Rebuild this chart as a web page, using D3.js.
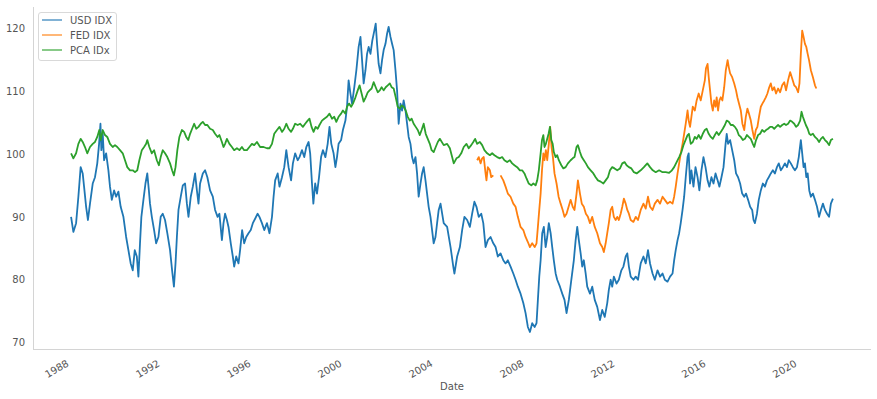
<!DOCTYPE html>
<html><head><meta charset="utf-8">
<script src="https://cdn.jsdelivr.net/npm/d3@7"></script>
<style>body{margin:0;background:#fff}svg{display:block;font-family:"DejaVu Sans",sans-serif}</style>
</head><body><svg id="chart" width="877" height="399"></svg>
<script>
const seriesNames = ["USD IDX", "FED IDX", "PCA IDx"];
const seriesColors = ["#1f77b4", "#ff7f0e", "#2ca02c"];
const xTickYears = [1988, 1992, 1996, 2000, 2004, 2008, 2012, 2016, 2020];
const yTickValues = [70, 80, 90, 100, 110, 120];
const yLimits = [69.0, 123.35];
const xLabel = "Date";

// [decimal year, value]
const usdIdx = [[1988.18,90.0],[1988.28,87.6],[1988.40,89.0],[1988.50,93.2],[1988.60,97.9],[1988.69,96.9],[1988.75,94.8],[1988.84,91.6],[1988.92,89.5],[1989.01,92.1],[1989.13,95.3],[1989.23,96.3],[1989.33,98.5],[1989.41,101.6],[1989.47,104.8],[1989.51,100.6],[1989.57,103.2],[1989.63,99.0],[1989.72,100.1],[1989.82,97.4],[1989.89,94.8],[1989.97,92.7],[1990.07,94.2],[1990.16,93.2],[1990.26,94.0],[1990.36,91.6],[1990.48,90.0],[1990.60,86.8],[1990.70,84.7],[1990.80,82.6],[1990.89,81.5],[1990.98,84.7],[1991.07,83.7],[1991.14,80.5],[1991.21,85.8],[1991.27,90.0],[1991.36,92.7],[1991.45,95.3],[1991.53,96.9],[1991.60,94.2],[1991.65,92.1],[1991.73,90.0],[1991.83,87.9],[1991.92,85.8],[1992.02,86.8],[1992.12,90.0],[1992.21,90.5],[1992.31,89.5],[1992.41,87.4],[1992.53,84.7],[1992.62,81.5],[1992.70,78.9],[1992.77,82.6],[1992.83,86.8],[1992.90,91.1],[1993.00,93.2],[1993.09,95.0],[1993.19,95.3],[1993.27,92.1],[1993.34,90.0],[1993.44,93.2],[1993.53,94.8],[1993.63,96.9],[1993.71,94.2],[1993.78,92.1],[1993.85,95.3],[1993.97,96.9],[1994.07,97.4],[1994.17,96.3],[1994.29,94.2],[1994.41,93.2],[1994.51,91.1],[1994.62,90.0],[1994.70,90.5],[1994.81,86.3],[1994.88,89.0],[1994.95,90.5],[1995.03,89.5],[1995.10,88.4],[1995.20,85.8],[1995.29,83.7],[1995.35,82.1],[1995.44,83.7],[1995.54,82.6],[1995.61,84.7],[1995.70,87.9],[1995.79,85.8],[1995.88,86.8],[1995.98,87.4],[1996.08,87.9],[1996.17,89.0],[1996.27,89.7],[1996.38,90.5],[1996.46,90.0],[1996.57,89.0],[1996.67,87.9],[1996.79,89.0],[1996.90,87.4],[1997.01,90.0],[1997.08,93.2],[1997.15,95.8],[1997.26,96.9],[1997.34,94.8],[1997.45,96.3],[1997.55,97.9],[1997.64,100.6],[1997.74,97.9],[1997.85,95.8],[1997.93,98.5],[1998.03,100.1],[1998.14,99.0],[1998.22,99.5],[1998.33,100.6],[1998.43,99.5],[1998.52,101.1],[1998.62,101.9],[1998.69,100.1],[1998.77,95.3],[1998.83,92.1],[1998.91,95.3],[1998.99,93.7],[1999.08,96.3],[1999.17,99.5],[1999.25,100.6],[1999.36,99.5],[1999.46,101.6],[1999.54,104.3],[1999.62,101.6],[1999.72,100.1],[1999.80,97.9],[1999.87,99.5],[1999.94,101.6],[2000.05,102.2],[2000.13,103.8],[2000.24,105.3],[2000.31,107.5],[2000.38,111.7],[2000.46,109.6],[2000.53,108.0],[2000.63,110.6],[2000.72,113.3],[2000.82,117.0],[2000.90,118.6],[2000.97,114.9],[2001.04,111.2],[2001.12,113.3],[2001.19,115.9],[2001.26,117.0],[2001.34,115.9],[2001.42,118.0],[2001.51,119.6],[2001.57,120.7],[2001.63,117.5],[2001.70,114.3],[2001.78,112.8],[2001.85,114.9],[2001.92,116.5],[2002.00,117.5],[2002.07,119.1],[2002.14,120.2],[2002.22,118.6],[2002.29,117.5],[2002.36,116.5],[2002.44,113.3],[2002.51,110.1],[2002.58,104.8],[2002.66,108.0],[2002.73,106.9],[2002.80,108.5],[2002.88,106.9],[2002.95,104.8],[2003.02,102.7],[2003.10,101.6],[2003.17,99.5],[2003.24,98.5],[2003.32,99.5],[2003.39,96.9],[2003.46,93.2],[2003.54,95.3],[2003.61,96.9],[2003.68,97.9],[2003.76,95.8],[2003.83,93.7],[2003.90,91.6],[2003.98,90.0],[2004.05,87.9],[2004.12,85.8],[2004.20,86.8],[2004.27,89.0],[2004.34,91.1],[2004.42,92.1],[2004.56,89.0],[2004.71,88.4],[2004.86,85.2],[2004.98,82.1],[2005.03,81.0],[2005.15,83.7],[2005.27,85.2],[2005.37,87.9],[2005.47,90.0],[2005.59,89.5],[2005.71,88.4],[2005.81,90.5],[2005.91,92.4],[2006.00,91.6],[2006.10,90.0],[2006.21,90.5],[2006.30,89.0],[2006.40,85.2],[2006.50,86.3],[2006.62,86.8],[2006.74,85.8],[2006.84,85.2],[2006.94,83.7],[2007.06,84.2],[2007.18,83.1],[2007.28,82.6],[2007.38,83.1],[2007.50,82.1],[2007.62,81.0],[2007.72,80.0],[2007.82,78.9],[2007.94,77.8],[2008.06,76.3],[2008.16,74.7],[2008.26,72.5],[2008.35,71.7],[2008.45,73.1],[2008.56,72.5],[2008.64,73.1],[2008.70,76.8],[2008.76,80.5],[2008.82,83.1],[2008.89,87.4],[2008.96,88.4],[2009.04,85.2],[2009.11,86.8],[2009.18,89.0],[2009.26,87.4],[2009.33,85.2],[2009.40,83.1],[2009.48,81.0],[2009.55,80.0],[2009.67,78.9],[2009.77,77.8],[2009.87,76.8],[2009.96,74.7],[2010.06,76.8],[2010.17,80.0],[2010.28,83.1],[2010.36,86.3],[2010.43,88.4],[2010.50,86.3],[2010.58,84.2],[2010.65,82.1],[2010.72,83.1],[2010.80,81.0],[2010.87,78.9],[2010.99,77.8],[2011.09,78.9],[2011.20,76.8],[2011.31,75.7],[2011.43,73.6],[2011.53,75.2],[2011.64,74.1],[2011.75,76.3],[2011.82,78.4],[2011.90,80.0],[2011.97,78.9],[2012.04,80.5],[2012.16,79.4],[2012.26,80.0],[2012.37,81.5],[2012.46,82.1],[2012.56,83.7],[2012.63,84.2],[2012.70,82.1],[2012.78,80.5],[2012.90,80.0],[2013.00,80.5],[2013.10,80.0],[2013.22,82.6],[2013.34,83.7],[2013.44,82.6],[2013.54,84.7],[2013.63,82.6],[2013.74,81.0],[2013.84,80.0],[2013.96,81.5],[2014.07,80.5],[2014.18,81.0],[2014.28,80.0],[2014.40,79.7],[2014.51,80.5],[2014.62,81.0],[2014.69,83.1],[2014.76,84.7],[2014.84,86.3],[2014.91,87.4],[2014.98,89.0],[2015.06,91.1],[2015.13,93.2],[2015.20,96.3],[2015.28,99.5],[2015.33,100.1],[2015.39,95.3],[2015.45,97.4],[2015.54,94.8],[2015.63,97.9],[2015.72,96.3],[2015.80,94.2],[2015.89,97.4],[2015.98,99.5],[2016.07,97.9],[2016.16,95.8],[2016.24,94.8],[2016.33,96.3],[2016.42,95.3],[2016.51,96.9],[2016.60,95.8],[2016.68,94.8],[2016.77,96.3],[2016.86,97.9],[2016.95,101.6],[2017.00,103.2],[2017.06,101.6],[2017.15,102.2],[2017.24,100.6],[2017.33,99.0],[2017.41,96.9],[2017.50,96.3],[2017.59,95.3],[2017.68,93.7],[2017.77,93.2],[2017.85,93.7],[2017.94,92.7],[2018.03,91.6],[2018.12,91.1],[2018.18,89.5],[2018.24,89.0],[2018.33,90.5],[2018.41,92.7],[2018.50,94.2],[2018.59,95.3],[2018.68,94.8],[2018.77,95.8],[2018.85,96.3],[2018.94,96.9],[2019.03,97.4],[2019.12,96.9],[2019.21,97.9],[2019.29,98.5],[2019.38,97.4],[2019.47,97.9],[2019.56,98.5],[2019.65,97.9],[2019.73,99.0],[2019.82,98.5],[2019.91,97.9],[2020.00,97.4],[2020.09,97.9],[2020.17,99.5],[2020.26,102.2],[2020.32,100.1],[2020.38,97.9],[2020.44,98.5],[2020.50,96.3],[2020.56,96.9],[2020.63,94.2],[2020.70,93.2],[2020.79,93.7],[2020.88,92.7],[2020.97,91.6],[2021.06,90.0],[2021.14,91.1],[2021.23,92.1],[2021.32,91.1],[2021.41,90.5],[2021.50,90.0],[2021.58,92.1],[2021.67,92.9]];

const fedIdx = [[2006.03,99.0],[2006.10,99.5],[2006.18,98.5],[2006.25,99.3],[2006.32,99.5],[2006.40,96.9],[2006.44,95.8],[2006.50,97.9],[2006.59,97.4],[2006.65,96.3],[2006.74,96.6],[2006.85,null],[2007.06,96.6],[2007.18,95.8],[2007.28,94.8],[2007.38,93.7],[2007.50,93.2],[2007.62,92.1],[2007.72,91.6],[2007.82,90.0],[2007.94,88.4],[2008.06,87.9],[2008.16,86.8],[2008.26,86.0],[2008.35,85.2],[2008.45,85.8],[2008.56,85.2],[2008.64,85.8],[2008.70,88.4],[2008.76,91.1],[2008.82,93.7],[2008.88,97.4],[2008.94,100.1],[2008.99,99.0],[2009.05,100.6],[2009.11,99.0],[2009.18,101.6],[2009.24,104.3],[2009.30,101.1],[2009.36,99.5],[2009.43,96.9],[2009.52,95.3],[2009.61,93.2],[2009.70,92.1],[2009.79,91.1],[2009.87,90.0],[2009.96,90.5],[2010.05,91.6],[2010.14,92.7],[2010.23,91.6],[2010.31,91.1],[2010.40,93.7],[2010.46,95.8],[2010.55,93.7],[2010.63,92.1],[2010.72,91.6],[2010.81,90.5],[2010.90,90.0],[2010.99,89.0],[2011.09,90.0],[2011.20,88.4],[2011.31,87.4],[2011.43,85.8],[2011.53,85.2],[2011.60,84.4],[2011.68,85.8],[2011.75,87.4],[2011.82,89.0],[2011.90,91.1],[2011.97,91.6],[2012.04,90.0],[2012.12,89.5],[2012.19,90.0],[2012.26,89.5],[2012.34,90.5],[2012.41,91.6],[2012.48,92.9],[2012.56,92.1],[2012.63,91.1],[2012.70,90.5],[2012.78,89.5],[2012.90,89.2],[2013.00,90.0],[2013.10,89.5],[2013.22,91.1],[2013.34,92.1],[2013.44,91.3],[2013.54,93.2],[2013.63,91.6],[2013.74,91.1],[2013.84,92.1],[2013.96,92.7],[2014.07,92.1],[2014.18,93.2],[2014.28,92.7],[2014.40,92.1],[2014.51,92.4],[2014.62,92.1],[2014.69,93.2],[2014.76,94.8],[2014.84,96.9],[2014.91,98.5],[2014.98,100.1],[2015.06,101.6],[2015.13,103.2],[2015.20,104.8],[2015.28,106.9],[2015.33,105.3],[2015.39,104.3],[2015.45,105.9],[2015.51,107.5],[2015.60,106.9],[2015.68,108.5],[2015.77,109.6],[2015.86,108.5],[2015.95,110.1],[2016.04,111.7],[2016.09,113.6],[2016.16,114.3],[2016.21,112.2],[2016.27,110.1],[2016.33,108.0],[2016.39,106.9],[2016.45,108.5],[2016.51,107.5],[2016.56,109.0],[2016.62,106.9],[2016.68,108.5],[2016.74,109.0],[2016.81,108.5],[2016.89,110.6],[2016.96,113.3],[2017.04,114.9],[2017.09,113.8],[2017.15,112.8],[2017.24,112.2],[2017.33,111.2],[2017.41,110.1],[2017.47,109.0],[2017.54,108.0],[2017.62,106.9],[2017.69,104.8],[2017.77,103.8],[2017.84,105.9],[2017.91,107.2],[2017.98,106.4],[2018.06,105.3],[2018.13,103.8],[2018.21,102.4],[2018.28,103.8],[2018.35,104.3],[2018.42,105.9],[2018.50,107.5],[2018.57,108.0],[2018.65,108.5],[2018.72,109.0],[2018.79,109.6],[2018.87,110.6],[2018.94,111.2],[2019.01,110.1],[2019.09,110.6],[2019.17,109.6],[2019.26,110.4],[2019.35,109.8],[2019.44,110.9],[2019.53,111.4],[2019.61,110.1],[2019.70,111.7],[2019.79,113.0],[2019.88,112.0],[2019.97,110.9],[2020.05,110.6],[2020.14,109.8],[2020.20,111.2],[2020.26,115.9],[2020.32,119.6],[2020.38,118.6],[2020.44,117.5],[2020.50,117.0],[2020.56,115.9],[2020.62,114.9],[2020.70,113.3],[2020.79,112.2],[2020.88,110.9],[2020.94,110.4]];

const pcaIdx = [[1988.18,100.1],[1988.28,99.3],[1988.40,100.1],[1988.50,101.6],[1988.60,102.4],[1988.69,101.9],[1988.79,101.1],[1988.89,100.1],[1989.01,101.1],[1989.13,101.6],[1989.23,101.9],[1989.33,102.7],[1989.42,103.8],[1989.48,102.2],[1989.57,103.8],[1989.67,103.0],[1989.77,102.7],[1989.89,101.6],[1990.01,101.1],[1990.11,101.4],[1990.21,101.1],[1990.33,100.6],[1990.45,100.1],[1990.55,99.0],[1990.65,97.9],[1990.77,97.4],[1990.89,97.4],[1990.99,97.1],[1991.09,97.4],[1991.18,99.0],[1991.29,100.6],[1991.39,101.1],[1991.48,101.6],[1991.53,102.2],[1991.62,101.1],[1991.73,100.1],[1991.83,100.6],[1991.95,99.0],[1992.04,98.2],[1992.12,99.5],[1992.21,100.6],[1992.31,100.1],[1992.41,99.5],[1992.53,98.5],[1992.62,97.4],[1992.70,96.6],[1992.77,97.9],[1992.85,100.6],[1992.94,102.7],[1993.05,103.8],[1993.15,103.5],[1993.24,102.7],[1993.33,102.2],[1993.41,103.2],[1993.50,104.0],[1993.59,104.8],[1993.68,104.0],[1993.78,104.3],[1993.88,104.8],[1993.97,105.1],[1994.07,104.6],[1994.17,104.6],[1994.29,104.0],[1994.41,103.8],[1994.51,103.2],[1994.62,102.7],[1994.70,103.0],[1994.81,101.9],[1994.88,101.1],[1994.95,101.6],[1995.03,102.4],[1995.14,101.6],[1995.25,101.1],[1995.35,100.6],[1995.47,100.9],[1995.58,100.6],[1995.69,101.1],[1995.79,100.6],[1995.91,100.6],[1996.02,101.1],[1996.13,101.6],[1996.23,101.4],[1996.35,101.9],[1996.49,101.1],[1996.64,101.1],[1996.79,100.9],[1996.90,100.9],[1997.01,101.6],[1997.11,103.2],[1997.23,103.8],[1997.34,104.3],[1997.45,103.5],[1997.55,104.0],[1997.64,104.8],[1997.74,104.0],[1997.85,103.5],[1997.93,104.0],[1998.03,104.8],[1998.14,104.6],[1998.25,104.8],[1998.37,104.3],[1998.47,104.8],[1998.58,105.3],[1998.66,105.6],[1998.75,104.3],[1998.84,103.5],[1998.93,104.3],[1999.02,104.0],[1999.10,104.6],[1999.21,105.3],[1999.31,105.6],[1999.43,105.9],[1999.54,106.4],[1999.65,105.6],[1999.75,105.9],[1999.84,105.1],[1999.94,105.9],[2000.05,106.4],[2000.13,106.9],[2000.24,106.4],[2000.31,107.5],[2000.40,108.0],[2000.49,107.5],[2000.57,108.0],[2000.68,109.0],[2000.78,110.1],[2000.86,110.9],[2000.95,109.6],[2001.04,108.3],[2001.13,109.0],[2001.22,109.8],[2001.30,110.1],[2001.39,110.4],[2001.48,111.4],[2001.57,110.6],[2001.66,109.8],[2001.75,110.1],[2001.83,110.6],[2001.92,110.1],[2002.01,110.6],[2002.10,110.9],[2002.19,111.2],[2002.27,110.6],[2002.36,110.4],[2002.45,109.0],[2002.54,107.5],[2002.63,107.2],[2002.71,107.7],[2002.80,107.5],[2002.89,106.9],[2002.98,105.9],[2003.07,105.3],[2003.15,105.6],[2003.24,104.8],[2003.33,104.3],[2003.42,103.8],[2003.51,103.0],[2003.59,103.8],[2003.68,104.8],[2003.77,103.2],[2003.86,102.4],[2003.95,101.6],[2004.03,100.6],[2004.12,100.3],[2004.21,101.1],[2004.30,101.9],[2004.39,102.4],[2004.56,101.4],[2004.71,101.6],[2004.83,100.9],[2004.93,99.5],[2005.00,98.5],[2005.12,99.3],[2005.22,99.5],[2005.33,100.1],[2005.44,101.1],[2005.56,101.6],[2005.66,100.9],[2005.77,101.4],[2005.86,101.9],[2005.94,102.4],[2006.03,101.6],[2006.15,101.9],[2006.25,101.4],[2006.35,100.6],[2006.47,100.1],[2006.59,99.8],[2006.69,100.1],[2006.79,99.8],[2006.91,99.5],[2007.03,99.3],[2007.13,99.5],[2007.23,99.0],[2007.35,98.7],[2007.47,99.0],[2007.57,98.5],[2007.67,98.2],[2007.79,97.9],[2007.91,97.4],[2008.01,97.4],[2008.11,96.9],[2008.20,96.1],[2008.30,95.3],[2008.41,95.0],[2008.50,95.3],[2008.60,95.0],[2008.67,95.8],[2008.74,97.4],[2008.82,100.1],[2008.88,102.2],[2008.94,103.0],[2008.99,101.1],[2009.05,101.6],[2009.11,102.4],[2009.17,103.2],[2009.23,104.3],[2009.29,102.2],[2009.35,101.6],[2009.40,100.3],[2009.48,99.5],[2009.55,99.8],[2009.62,99.0],[2009.73,98.2],[2009.82,97.7],[2009.92,97.9],[2010.02,98.5],[2010.14,99.0],[2010.23,99.3],[2010.31,99.5],[2010.40,101.1],[2010.46,101.4],[2010.55,100.3],[2010.63,99.5],[2010.72,99.0],[2010.81,98.5],[2010.90,97.9],[2011.02,97.4],[2011.14,96.9],[2011.24,96.3],[2011.34,95.8],[2011.46,95.6],[2011.58,95.3],[2011.68,95.8],[2011.78,96.3],[2011.87,97.4],[2011.97,97.9],[2012.07,97.7],[2012.19,97.4],[2012.31,97.7],[2012.41,98.5],[2012.51,98.7],[2012.60,98.2],[2012.70,97.9],[2012.81,97.7],[2012.92,97.1],[2013.04,96.9],[2013.22,97.4],[2013.36,97.9],[2013.51,98.5],[2013.63,97.9],[2013.75,97.4],[2013.88,97.1],[2014.03,97.4],[2014.18,97.1],[2014.32,97.1],[2014.47,97.0],[2014.57,97.3],[2014.69,97.9],[2014.80,98.7],[2014.91,99.5],[2015.01,100.3],[2015.10,101.4],[2015.19,102.2],[2015.28,103.0],[2015.34,103.2],[2015.42,101.6],[2015.51,101.9],[2015.60,102.7],[2015.68,102.4],[2015.77,103.0],[2015.86,102.4],[2015.95,103.2],[2016.04,103.8],[2016.12,104.0],[2016.21,103.2],[2016.30,102.7],[2016.39,102.4],[2016.48,103.0],[2016.56,103.5],[2016.65,103.0],[2016.74,103.5],[2016.83,104.0],[2016.92,104.6],[2017.00,105.3],[2017.09,105.1],[2017.18,104.6],[2017.27,104.6],[2017.36,104.3],[2017.45,103.8],[2017.53,103.0],[2017.62,102.7],[2017.71,102.2],[2017.80,102.4],[2017.89,103.0],[2017.97,102.7],[2018.06,102.4],[2018.15,101.6],[2018.21,101.1],[2018.29,102.2],[2018.38,103.0],[2018.47,103.2],[2018.56,103.8],[2018.65,103.5],[2018.73,103.8],[2018.82,104.0],[2018.91,104.3],[2019.00,104.3],[2019.09,104.0],[2019.17,104.3],[2019.26,104.6],[2019.35,104.3],[2019.44,104.6],[2019.53,104.8],[2019.61,104.6],[2019.70,104.8],[2019.79,105.3],[2019.88,105.1],[2019.97,104.8],[2020.05,104.3],[2020.14,104.6],[2020.23,105.3],[2020.29,106.7],[2020.35,105.9],[2020.41,105.3],[2020.48,104.6],[2020.56,104.0],[2020.63,103.2],[2020.70,103.0],[2020.79,103.2],[2020.88,102.7],[2020.97,102.4],[2021.06,101.9],[2021.14,102.4],[2021.23,102.7],[2021.32,102.2],[2021.41,101.9],[2021.50,101.4],[2021.58,102.2],[2021.67,102.4]];

const seriesData = [usdIdx, fedIdx, pcaIdx];

const toDate = yr => {
  const y0 = Math.floor(yr);
  const a = Date.UTC(y0, 0, 1), b = Date.UTC(y0 + 1, 0, 1);
  return new Date(a + (yr - y0) * (b - a));
};

const svg = d3.select("#chart");
const plot = {left: 33, right: 871, top: 7, bottom: 349};
const textColor = "#555";
const spineColor = "#d4d4d4";

const allYears = seriesData.flat().map(d => d[0]);
const [x0, x1] = d3.extent(allYears);
const pad = (x1 - x0) * 0.05;
const x = d3.scaleUtc().domain([toDate(x0 - pad), toDate(x1 + pad)]).range([plot.left, plot.right]);
const y = d3.scaleLinear().domain(yLimits).range([plot.bottom, plot.top]);

// spines
svg.append("line").attr("x1", plot.left + 0.5).attr("x2", plot.left + 0.5)
  .attr("y1", plot.top).attr("y2", plot.bottom + 0.5).attr("stroke", spineColor);
svg.append("line").attr("x1", plot.left).attr("x2", plot.right)
  .attr("y1", plot.bottom + 0.5).attr("y2", plot.bottom + 0.5).attr("stroke", spineColor);

// y axis
const gy = svg.append("g").attr("transform", `translate(${plot.left},0)`)
  .call(d3.axisLeft(y).tickValues(yTickValues).tickSize(0).tickPadding(8));
gy.select(".domain").remove();
gy.selectAll("text").attr("fill", textColor).style("font-size", "10px").style("font-family", "DejaVu Sans");

// x axis
const gx = svg.append("g").attr("transform", `translate(0,${plot.bottom})`)
  .call(d3.axisBottom(x).tickValues(xTickYears.map(toDate)).tickFormat(d3.utcFormat("%Y")).tickSize(0));
gx.select(".domain").remove();
gx.selectAll("text")
  .attr("x", 0).attr("y", 0).attr("dy", 0)
  .attr("transform", "translate(2,16.5) rotate(-30)")
  .style("text-anchor", "end")
  .attr("fill", textColor).style("font-size", "10px").style("font-family", "DejaVu Sans");

svg.append("text").attr("x", (plot.left + plot.right) / 2).attr("y", 389.5)
  .attr("text-anchor", "middle").attr("fill", textColor)
  .style("font-size", "10px").text(xLabel);

// lines
const line = d3.line()
  .defined(d => d[1] != null)
  .x(d => x(toDate(d[0])))
  .y(d => y(d[1]));

seriesData.forEach((data, i) => {
  svg.append("path").datum(data)
    .attr("fill", "none")
    .attr("stroke", seriesColors[i])
    .attr("stroke-width", 1.8)
    .attr("stroke-linejoin", "round")
    .attr("d", line);
});

// legend
const lg = svg.append("g");
lg.append("rect").attr("x", 38.5).attr("y", 12.5).attr("width", 78).attr("height", 48)
  .attr("rx", 2.5).attr("fill", "#fff").attr("fill-opacity", 0.8).attr("stroke", "#d9d9d9");
seriesNames.forEach((name, i) => {
  const yy = 20 + i * 15;
  lg.append("line").attr("x1", 42).attr("x2", 62).attr("y1", yy).attr("y2", yy)
    .attr("stroke", seriesColors[i]).attr("stroke-width", 1.5).attr("stroke-opacity", 0.75);
  lg.append("text").attr("x", 70).attr("y", yy).attr("dy", "0.35em")
    .attr("fill", textColor).style("font-size", "10px").text(name);
});
</script>
</body></html>
